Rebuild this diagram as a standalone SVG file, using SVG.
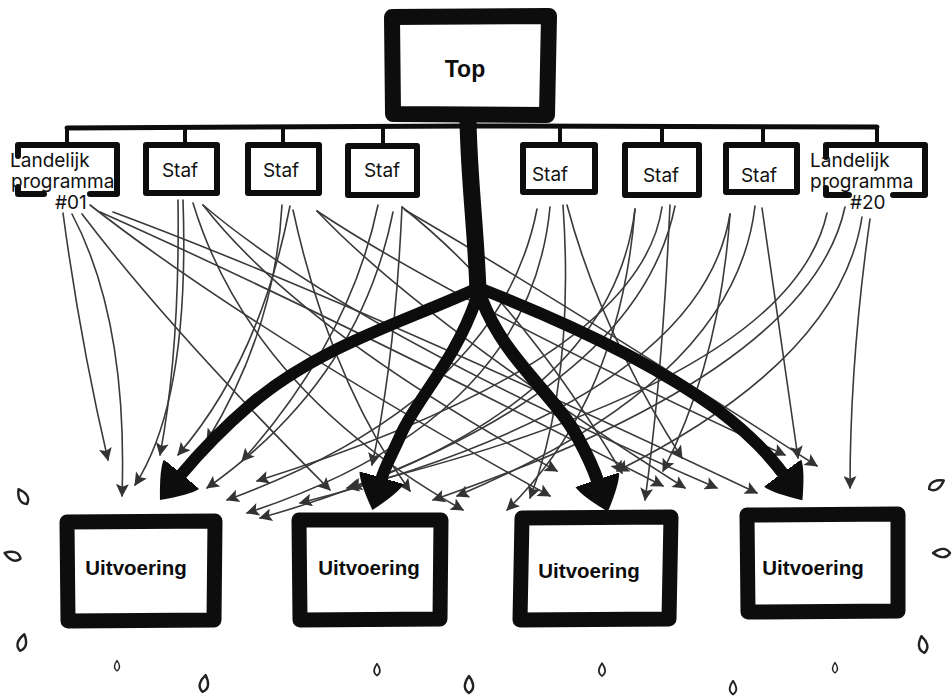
<svg xmlns="http://www.w3.org/2000/svg" width="952" height="696" viewBox="0 0 952 696">
<style>
.thin{fill:none;stroke:#3a3a3a;stroke-width:1.6;stroke-linecap:round;marker-end:url(#ah)}
.thick{fill:none;stroke:#0d0d0d;stroke-linecap:round;stroke-linejoin:round}
.box{fill:#fff;stroke:#0d0d0d;stroke-linejoin:round;stroke-linecap:round}
.edge{fill:none;stroke:#0d0d0d;stroke-width:6;stroke-linecap:round;stroke-linejoin:round}
.lbl{font-family:Inter,"Liberation Sans",sans-serif;font-size:19px;fill:#111}
.blbl{font-family:"Liberation Sans",Arial,sans-serif;font-weight:bold;fill:#0d0d0d}
.drop{fill:none;stroke:#222;stroke-width:2.4;stroke-linejoin:round}
</style>
<defs>
<marker id="ah" viewBox="0 0 12 12" refX="11" refY="6" markerWidth="14" markerHeight="13" markerUnits="userSpaceOnUse" orient="auto">
<path d="M0,0 L12,6 L0,12 L2.5,6 z" fill="#333"/>
</marker>
<marker id="big" viewBox="0 0 32 46" refX="2" refY="23" markerWidth="34" markerHeight="48" markerUnits="userSpaceOnUse" orient="auto">
<path d="M0,1 Q10,4 32,23 Q10,42 0,45 Q-3,23 0,1 z" fill="#0d0d0d"/>
</marker>
<path id="dp" d="M0,-9 C4.5,-3 6.5,4 0,8 C-6.5,4 -4.5,-3 0,-9 Z"/>
</defs>
<rect width="952" height="696" fill="#fff"/>

<g id="connectors">
<path class="thick" stroke-width="5" d="M67,128 L470,126 L877,127"/>
<path class="thick" stroke-width="4" d="M67,128 V144 M185,127 V144 M283,127 V144 M383,127 V144 M560,127 V144 M662,127 V144 M763,127 V144 M877,127 V144"/>
<path class="thin" d="M63,213 Q80,340 108,460"/>
<path class="thin" d="M72,214 Q128,320 122,496"/>
<path class="thin" d="M82,214 Q170,330 330,490"/>
<path class="thin" d="M90,205 Q250,330 550,496"/>
<path class="thin" d="M113,212 Q350,300 757,493"/>
<path class="thin" d="M100,212 Q320,310 663,486"/>
<path class="thin" d="M178,200 Q180,350 160,455"/>
<path class="thin" d="M183,200 Q190,400 135,485"/>
<path class="thin" d="M193,203 Q250,390 463,510"/>
<path class="thin" d="M203,205 Q350,330 717,488"/>
<path class="thin" d="M203,205 Q300,330 557,471"/>
<path class="thin" d="M282,205 Q275,330 207,441"/>
<path class="thin" d="M290,206 Q260,360 178,455"/>
<path class="thin" d="M293,210 Q330,380 410,491"/>
<path class="thin" d="M317,211 Q420,320 685,488"/>
<path class="thin" d="M317,211 Q450,300 785,455"/>
<path class="thin" d="M378,205 Q350,340 242,461"/>
<path class="thin" d="M393,212 Q360,380 207,488"/>
<path class="thin" d="M402,207 Q395,360 372,465"/>
<path class="thin" d="M405,210 Q560,300 817,466"/>
<path class="thin" d="M402,207 Q520,300 622,473"/>
<path class="thin" d="M537,209 Q500,400 227,500"/>
<path class="thin" d="M550,207 Q530,420 247,513"/>
<path class="thin" d="M563,205 Q575,380 530,498"/>
<path class="thin" d="M567,205 Q600,330 682,458"/>
<path class="thin" d="M635,209 Q610,420 260,518"/>
<path class="thin" d="M662,207 Q640,360 257,481"/>
<path class="thin" d="M670,205 Q662,380 645,500"/>
<path class="thin" d="M675,206 Q640,380 350,488"/>
<path class="thin" d="M635,209 Q620,400 507,510"/>
<path class="thin" d="M730,214 Q700,400 300,503"/>
<path class="thin" d="M755,206 Q735,380 457,496"/>
<path class="thin" d="M762,208 Q780,330 798,458"/>
<path class="thin" d="M730,214 Q720,360 663,471"/>
<path class="thin" d="M827,213 Q790,380 347,488"/>
<path class="thin" d="M845,207 Q810,370 433,500"/>
<path class="thin" d="M862,217 Q840,360 617,471"/>
<path class="thin" d="M870,219 Q850,360 850,488"/>
<path class="thick" stroke-width="17" d="M468,120 C469,180 476,230 478,292"/>
<path class="thick" stroke-width="12" marker-end="url(#big)" d="M478,288 C410,320 320,345 250,405 C215,435 195,458 180,476"/>
<path class="thick" stroke-width="12" marker-end="url(#big)" d="M476,300 C455,360 420,395 402,432 C392,455 385,466 381,480"/>
<path class="thick" stroke-width="13" marker-end="url(#big)" d="M482,300 C505,360 555,395 578,438 C590,460 594,470 598,482"/>
<path class="thick" stroke-width="12" marker-end="url(#big)" d="M484,290 C560,320 650,360 718,410 C748,433 768,453 784,475"/>
</g>

<g id="top">
<path class="box" stroke-width="16" d="M392,17 L549,16 L547,115 L393,114 Z"/>
<text class="blbl" font-size="23" x="465" y="77" text-anchor="middle">Top</text>
</g>

<g id="landelijk-01">
<rect x="18" y="145" width="99" height="49" fill="#fff"/>
<path class="edge" d="M18,156 V145 H117 V194 H90 M44,194 H18 V187"/>
<text class="lbl" x="10" y="167">Landelijk</text>
<text class="lbl" x="11" y="188">programma</text>
<text class="lbl" x="55" y="209">#01</text>
</g>

<g id="staf-1">
<rect class="box" stroke-width="6" x="146" y="145" width="71" height="48"/>
<text class="lbl" x="180" y="177" text-anchor="middle">Staf</text>
</g>
<g id="staf-2">
<rect class="box" stroke-width="6" x="248" y="145" width="71" height="48"/>
<text class="lbl" x="281" y="177" text-anchor="middle">Staf</text>
</g>
<g id="staf-3">
<rect class="box" stroke-width="6" x="348" y="146" width="69" height="49"/>
<text class="lbl" x="382" y="177" text-anchor="middle">Staf</text>
</g>
<g id="staf-4">
<rect class="box" stroke-width="6" x="523" y="145" width="72" height="47"/>
<text class="lbl" x="550" y="181" text-anchor="middle">Staf</text>
</g>
<g id="staf-5">
<rect class="box" stroke-width="6" x="625" y="145" width="74" height="50"/>
<text class="lbl" x="661" y="182" text-anchor="middle">Staf</text>
</g>
<g id="staf-6">
<rect class="box" stroke-width="6" x="726" y="145" width="71" height="47"/>
<text class="lbl" x="759" y="182" text-anchor="middle">Staf</text>
</g>

<g id="landelijk-20">
<rect x="826" y="145" width="99" height="50" fill="#fff"/>
<path class="edge" d="M826,157 V145 H925 V195 H893 M849,195 H826 V188"/>
<text class="lbl" x="810" y="167">Landelijk</text>
<text class="lbl" x="810" y="188">programma</text>
<text class="lbl" x="850" y="209">#20</text>
</g>

<g id="uitvoering-1">
<path class="box" stroke-width="15" d="M67,522 L215,521 L214,620 L68,621 Z"/>
<text class="blbl" font-size="20.5" x="136" y="575" text-anchor="middle">Uitvoering</text>
</g>
<g id="uitvoering-2">
<path class="box" stroke-width="15" d="M299,520 L441,520 L440,619 L300,620 Z"/>
<text class="blbl" font-size="20.5" x="369" y="575" text-anchor="middle">Uitvoering</text>
</g>
<g id="uitvoering-3">
<path class="box" stroke-width="15" d="M522,518 L671,517 L669,619 L520,620 Z"/>
<text class="blbl" font-size="20.5" x="589" y="578" text-anchor="middle">Uitvoering</text>
</g>
<g id="uitvoering-4">
<path class="box" stroke-width="15" d="M747,515 L898,514 L898,611 L748,612 Z"/>
<text class="blbl" font-size="20.5" x="813" y="575" text-anchor="middle">Uitvoering</text>
</g>

<g id="drops">
<use href="#dp" class="drop" transform="translate(23,497) rotate(-30)"/>
<use href="#dp" class="drop" transform="translate(13,556) rotate(-70)"/>
<use href="#dp" class="drop" transform="translate(22,643) rotate(15)"/>
<use href="#dp" class="drop" transform="translate(117,666) scale(0.6)"/>
<use href="#dp" class="drop" transform="translate(204,684) rotate(10)"/>
<use href="#dp" class="drop" transform="translate(377,670) scale(0.7)"/>
<use href="#dp" class="drop" transform="translate(469,685)"/>
<use href="#dp" class="drop" transform="translate(602,670) scale(0.75)"/>
<use href="#dp" class="drop" transform="translate(733,688) scale(0.8)"/>
<use href="#dp" class="drop" transform="translate(835,668) scale(0.6)"/>
<use href="#dp" class="drop" transform="translate(936,485) rotate(60)"/>
<use href="#dp" class="drop" transform="translate(942,553) rotate(-90)"/>
<use href="#dp" class="drop" transform="translate(923,645) rotate(-10)"/>
</g>
</svg>
